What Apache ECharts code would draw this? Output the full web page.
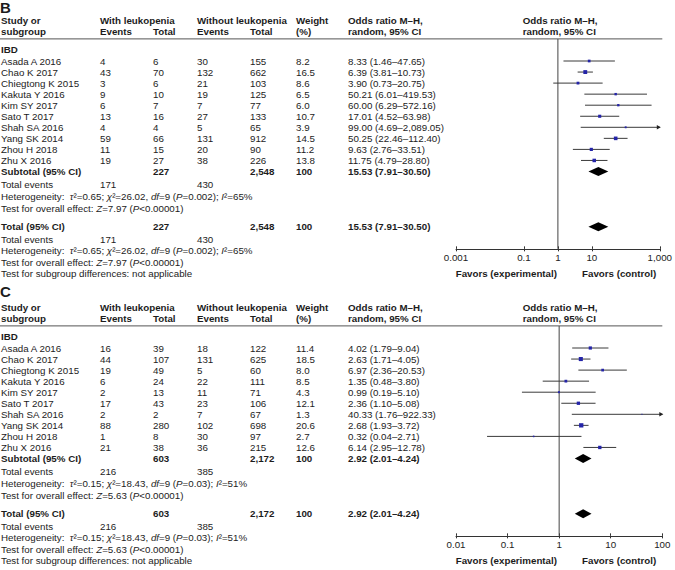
<!DOCTYPE html>
<html><head><meta charset="utf-8">
<script src="https://cdn.jsdelivr.net/npm/echarts@6/dist/echarts.min.js"></script>
<style>html,body{margin:0;padding:0;background:#fff}#chart{width:675px;height:570px}</style>
</head><body><div id="chart"></div>
<script>
// ---------------- data ----------------
const studies = ['Asada A 2016','Chao K 2017','Chiegtong K 2015','Kakuta Y 2016','Kim SY 2017','Sato T 2017','Shah SA 2016','Yang SK 2014','Zhou H 2018','Zhu X 2016'];

// Panel B
const bWithEvents = [4,43,3,9,6,13,4,59,11,19];
const bWithTotal = [6,70,6,10,7,16,4,66,15,27];
const bWithoutEvents = [30,132,21,19,7,27,5,131,20,38];
const bWithoutTotal = [155,662,103,125,77,133,65,912,90,226];
const bWeight = [8.2,16.5,8.6,6.5,6.0,10.7,3.9,14.5,11.2,13.8];
const bOR = [8.33,6.39,3.90,50.21,60.00,17.01,99.00,50.25,9.63,11.75];
const bLo = [1.46,3.81,0.73,6.01,6.29,4.52,4.69,22.46,2.76,4.79];
const bHi = [47.65,10.73,20.75,419.53,572.16,63.98,2089.05,112.40,33.51,28.80];
const bPooled = [15.53,7.91,30.50];
const bSums = [171,227,430,2548,100];
const bHet = {tau2:'0.65', chi2:'26.02', df:'9', p:'0.002', i2:'65', z:'7.97'};
const bTicks = [0.001,0.1,1,10,1000];
const bTickLabels = ['0.001','0.1','1','10','1,000'];

// Panel C
const cWithEvents = [16,44,19,6,2,17,2,88,1,21];
const cWithTotal = [39,107,49,24,13,43,2,280,8,38];
const cWithoutEvents = [18,131,5,22,11,23,7,102,30,36];
const cWithoutTotal = [122,625,60,111,71,106,67,698,97,215];
const cWeight = [11.4,18.5,8.0,8.5,4.3,12.1,1.3,20.6,2.7,12.6];
const cOR = [4.02,2.63,6.97,1.35,0.99,2.36,40.33,2.68,0.32,6.14];
const cLo = [1.79,1.71,2.36,0.48,0.19,1.10,1.76,1.93,0.04,2.95];
const cHi = [9.04,4.05,20.53,3.80,5.10,5.08,922.33,3.72,2.71,12.78];
const cPooled = [2.92,2.01,4.24];
const cSums = [216,603,385,2172,100];
const cHet = {tau2:'0.15', chi2:'18.43', df:'9', p:'0.03', i2:'51', z:'5.63'};
const cTicks = [0.01,0.1,1,10,100];
const cTickLabels = ['0.01','0.1','1','10','100'];

// ---------------- layout / style ----------------
const FONT = 'Arial, "Liberation Sans", Helvetica, sans-serif';
const FS = 9.75;
const TXT = '#1c1c1c';
const UNIT = 11.05, ROW0 = 61;
const COLS = {name:1, we:100, wt:153, woe:197, wot:250, wgt:296, ort:348, rh:522.7};
const PLOT_L = 456, PLOT_R = 662.3;

const panels = [
  {letter:'B', dy:0, we:bWithEvents, wt:bWithTotal, woe:bWithoutEvents, wot:bWithoutTotal, w:bWeight, or:bOR, lo:bLo, hi:bHi, pooled:bPooled, sums:bSums, het:bHet, ticks:bTicks, tickLabels:bTickLabels},
  {letter:'C', dy:287, we:cWithEvents, wt:cWithTotal, woe:cWithoutEvents, wot:cWithoutTotal, w:cWeight, or:cOR, lo:cLo, hi:cHi, pooled:cPooled, sums:cSums, het:cHet, ticks:cTicks, tickLabels:cTickLabels}
];

const lg = v => Math.log10(v);
const r6 = v => Math.round(v*1e6)/1e6;
const f2 = v => v.toLocaleString('en-US',{minimumFractionDigits:2,maximumFractionDigits:2});
const fi = v => v.toLocaleString('en-US');
const ciText = (o,l,h) => f2(o)+' ('+f2(l)+'\u2013'+f2(h)+')';

function T(x, y, text, opt) {
  opt = opt || {};
  return {type:'text', x:x, y:y, silent:true, z:100, style:{text:text, fontSize:opt.fs||FS, fontFamily:FONT,
    fontWeight:opt.bold?'bold':'normal', fill:TXT, align:opt.align||'left', verticalAlign:'middle'}};
}
function RT(x, y, text) {
  return {type:'text', x:x, y:y, silent:true, z:100, style:{text:text, fontSize:FS, fontFamily:FONT, fill:TXT,
    align:'left', verticalAlign:'middle',
    rich:{r:{fontSize:FS, fontFamily:FONT, fill:TXT}, i:{fontSize:FS, fontFamily:FONT, fontStyle:'italic', fill:TXT}}}};
}
const hetStr = h => '{r|Heterogeneity:  }{i|\u03c4}{r|\u00b2=' + h.tau2 + '; }{i|\u03c7}{r|\u00b2=' + h.chi2 + ', }{i|df}{r|=' + h.df +
  ' (}{i|P}{r|=' + h.p + '); }{i|I}{r|\u00b2=' + h.i2 + '%}';
const testStr = h => '{r|Test for overall effect: }{i|Z}{r|=' + h.z + ' (}{i|P}{r|<0.00001)}';

const grids = [], xAxes = [], yAxes = [], series = [], graphics = [];

panels.forEach((p, k) => {
  const xmin = r6(lg(p.ticks[0])), xmax = r6(lg(p.ticks[p.ticks.length-1]));
  const tv = p.ticks.map(t => r6(lg(t)));
  const top = p.dy + ROW0 - 2*UNIT;
  grids.push({left:PLOT_L, width:PLOT_R-PLOT_L, top:top, height:19*UNIT, containLabel:false});
  const labelFmt = v => { const i = tv.findIndex(t => Math.abs(t - v) < 1e-6); return i >= 0 ? p.tickLabels[i] : ''; };
  xAxes.push({gridIndex:k, type:'value', min:xmin, max:xmax, position:'bottom', offset:0,
    axisLine:{show:true, onZero:false, lineStyle:{color:'#333', width:1}},
    axisTick:{show:true, inside:false, length:2.5, lineStyle:{color:'#333', width:1}, customValues:tv},
    axisLabel:{show:true, customValues:tv, formatter:labelFmt, fontSize:FS, fontFamily:FONT, color:TXT, margin:4,
      showMinLabel:true, showMaxLabel:true, hideOverlap:false},
    splitLine:{show:false}});
  xAxes.push({gridIndex:k, type:'value', min:xmin, max:xmax, position:'bottom', offset:0,
    axisLine:{show:false, onZero:false},
    axisTick:{show:true, inside:true, length:2.5, lineStyle:{color:'#333', width:1}, customValues:tv},
    axisLabel:{show:false}, splitLine:{show:false}});
  yAxes.push({gridIndex:k, type:'value', min:-2, max:17, inverse:true, show:false});

  // line of no effect (OR = 1)
  series.push({type:'line', xAxisIndex:2*k, yAxisIndex:k, data:[[lg(1),-2],[lg(1),17]], symbol:'none', silent:true,
    lineStyle:{color:'#444', width:1}, z:1, animation:false});

  // study CIs and squares
  series.push({type:'custom', xAxisIndex:2*k, yAxisIndex:k, z:3, animation:false, silent:true,
    encode:{x:[0,1,2], y:3},
    data: studies.map((s,i) => [lg(p.or[i]), lg(p.lo[i]), lg(p.hi[i]), i, p.w[i]]),
    renderItem: function(params, api) {
      const x = api.value(0), lo = api.value(1), hi = api.value(2), r = api.value(3), w = api.value(4);
      const a = api.coord([Math.max(lo, xmin), r]);
      const b = api.coord([Math.min(hi, xmax), r]);
      const c = api.coord([x, r]);
      const s = Math.max(1, 0.95*Math.sqrt(w));
      const ch = [{type:'line', shape:{x1:a[0], y1:a[1], x2:b[0], y2:b[1]}, style:{stroke:'#3a3a3a', lineWidth:1}}];
      if (hi > xmax) ch.push({type:'polygon', shape:{points:[[b[0]+1,b[1]],[b[0]-3,b[1]-2.3],[b[0]-3,b[1]+2.3]]}, style:{fill:'#222'}});
      ch.push({type:'rect', shape:{x:c[0]-s/2, y:c[1]-s/2, width:s, height:s}, style:{fill:'#2424a8'}});
      return {type:'group', children:ch};
    }});

  // pooled diamonds (subtotal row 10, total row 15)
  series.push({type:'custom', xAxisIndex:2*k, yAxisIndex:k, z:3, animation:false, silent:true,
    encode:{x:[0,1,2], y:3},
    data: [10,15].map(r => [lg(p.pooled[0]), lg(p.pooled[1]), lg(p.pooled[2]), r]),
    renderItem: function(params, api) {
      const x = api.value(0), lo = api.value(1), hi = api.value(2), r = api.value(3);
      const a = api.coord([lo, r]), b = api.coord([hi, r]), c = api.coord([x, r]);
      return {type:'polygon', shape:{points:[[a[0],a[1]],[c[0],c[1]-4.6],[b[0],b[1]],[c[0],c[1]+4.6]]}, style:{fill:'#000'}};
    }});

  // ---- table text ----
  const d = p.dy;
  const ry = r => d + ROW0 + r*UNIT;
  graphics.push(T(0, Math.max(d+4, 7), p.letter, {bold:true, fs:15}));
  graphics.push({type:'line', silent:true, z:90, shape:{x1:0, y1:top, x2:PLOT_R, y2:top}, style:{stroke:'#555', lineWidth:1}});
  const h1 = d+20, h2 = d+31.5;
  graphics.push(T(COLS.name, h1, 'Study or', {bold:true}), T(COLS.name, h2, 'subgroup', {bold:true}));
  graphics.push(T(COLS.we, h1, 'With leukopenia', {bold:true}), T(COLS.we, h2, 'Events', {bold:true}), T(COLS.wt, h2, 'Total', {bold:true}));
  graphics.push(T(COLS.woe, h1, 'Without leukopenia', {bold:true}), T(COLS.woe, h2, 'Events', {bold:true}), T(COLS.wot, h2, 'Total', {bold:true}));
  graphics.push(T(COLS.wgt, h1, 'Weight', {bold:true}), T(COLS.wgt, h2, '(%)', {bold:true}));
  graphics.push(T(COLS.ort, h1, 'Odds ratio M\u2013H,', {bold:true}), T(COLS.ort, h2, 'random, 95% CI', {bold:true}));
  graphics.push(T(COLS.rh, h1, 'Odds ratio M\u2013H,', {bold:true}), T(COLS.rh, h2, 'random, 95% CI', {bold:true}));
  graphics.push(T(COLS.name, d+49.5, 'IBD', {bold:true}));
  studies.forEach((s, i) => {
    const y = ry(i);
    graphics.push(T(COLS.name, y, s), T(COLS.we, y, fi(p.we[i])), T(COLS.wt, y, fi(p.wt[i])),
      T(COLS.woe, y, fi(p.woe[i])), T(COLS.wot, y, fi(p.wot[i])), T(COLS.wgt, y, p.w[i].toFixed(1)),
      T(COLS.ort, y, ciText(p.or[i], p.lo[i], p.hi[i])));
  });
  [[10, 'Subtotal (95% CI)', 184.8, 196.5, 208.2], [15, 'Total (95% CI)', 239.3, 250.8, 262.3]].forEach(b => {
    const y = ry(b[0]);
    graphics.push(T(COLS.name, y, b[1], {bold:true}), T(COLS.wt, y, fi(p.sums[1]), {bold:true}),
      T(COLS.wot, y, fi(p.sums[3]), {bold:true}), T(COLS.wgt, y, String(p.sums[4]), {bold:true}),
      T(COLS.ort, y, ciText(p.pooled[0], p.pooled[1], p.pooled[2]), {bold:true}));
    graphics.push(T(COLS.name, d+b[2], 'Total events'), T(COLS.we, d+b[2], fi(p.sums[0])), T(COLS.woe, d+b[2], fi(p.sums[2])));
    graphics.push(RT(COLS.name, d+b[3], hetStr(p.het)));
    graphics.push(RT(COLS.name, d+b[4], testStr(p.het)));
  });
  graphics.push(T(COLS.name, d+273.5, 'Test for subgroup differences: not applicable'));
  graphics.push(T(557, d+273.3, 'Favors (experimental)', {bold:true, align:'right'}));
  graphics.push(T(582, d+273.3, 'Favors (control)', {bold:true}));
});

const chart = echarts.init(document.getElementById('chart'), null, {renderer:'svg'});
chart.setOption({
  animation:false,
  backgroundColor:'#ffffff',
  grid:grids, xAxis:xAxes, yAxis:yAxes, series:series, graphic:graphics
});
</script>
</body></html>
